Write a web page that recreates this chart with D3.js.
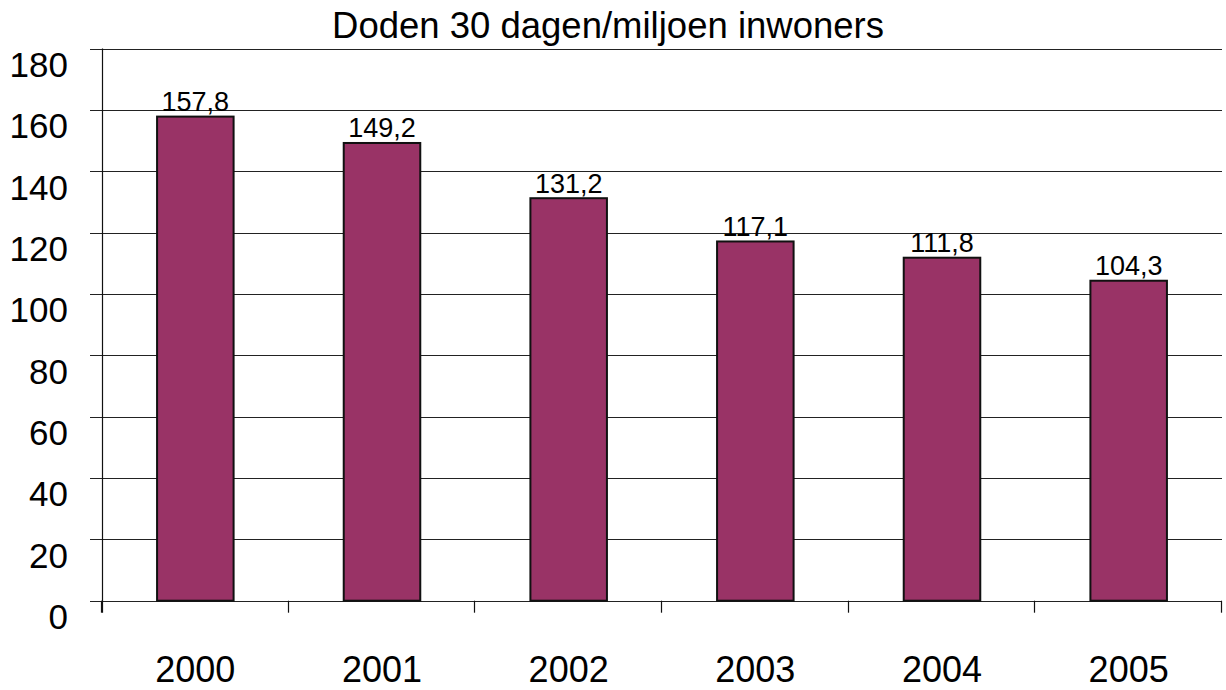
<!DOCTYPE html>
<html>
<head>
<script src="https://cdnjs.cloudflare.com/ajax/libs/d3/7.8.5/d3.min.js"></script>
<style>
  body { margin: 0; background: #fff; }
  text { font-family: "Liberation Sans", Arial, sans-serif; fill: #000; }
  .grid line { stroke: #222; stroke-width: 1.2px; shape-rendering: crispEdges; }
  .bar { fill: #993366; stroke: #111; stroke-width: 2px; }
</style>
</head>
<body>
<script>
  // data
  var years = ["2000", "2001", "2002", "2003", "2004", "2005"];
  var values = [157.8, 149.2, 131.2, 117.1, 111.8, 104.3];
  var yTicks = [0, 20, 40, 60, 80, 100, 120, 140, 160, 180];
  var title = "Doden 30 dagen/miljoen inwoners";

  var width = 1226, height = 690;
  var margin = {top: 48.5, right: 4, bottom: 89.3, left: 102};

  var svg = d3.select("body").append("svg")
      .attr("width", width)
      .attr("height", height);

  var x = d3.scaleBand()
      .domain(years)
      .range([margin.left, width - margin.right])
      .padding(0);

  var y = d3.scaleLinear()
      .domain([0, 180])
      .range([height - margin.bottom, margin.top]);

  var barW = x.bandwidth() * 0.41;

  // gridlines (extend left as ticks)
  svg.append("g").attr("class", "grid")
    .selectAll("line")
    .data(yTicks)
    .enter().append("line")
      .attr("x1", margin.left - 12)
      .attr("x2", width - margin.right)
      .attr("y1", function(d) { return Math.round(y(d)) + 0.5; })
      .attr("y2", function(d) { return Math.round(y(d)) + 0.5; });

  // y axis line
  svg.append("line")
    .attr("x1", margin.left + 0.5).attr("x2", margin.left + 0.5)
    .attr("y1", y(180)).attr("y2", y(0) + 12)
    .attr("stroke", "#111").attr("stroke-width", 1.2);

  // x category ticks
  var bounds = years.map(function(d) { return x(d); }).concat([x(years[years.length - 1]) + x.bandwidth()]);
  svg.append("g").selectAll("line")
    .data(bounds)
    .enter().append("line")
      .attr("x1", function(d) { return Math.round(d) - 0.5; })
      .attr("x2", function(d) { return Math.round(d) - 0.5; })
      .attr("y1", y(0))
      .attr("y2", y(0) + 12)
      .attr("stroke", "#111").attr("stroke-width", 1.2);

  // y labels
  svg.append("g").selectAll("text")
    .data(yTicks)
    .enter().append("text")
      .attr("x", 68)
      .attr("y", function(d) { return y(d) + 28.5; })
      .attr("text-anchor", "end")
      .style("font-size", "35px")
      .text(function(d) { return d; });

  // bars
  svg.append("g").selectAll("rect")
    .data(values)
    .enter().append("rect")
      .attr("class", "bar")
      .attr("x", function(d, i) { return x(years[i]) + (x.bandwidth() - barW) / 2; })
      .attr("y", function(d) { return y(d); })
      .attr("width", barW)
      .attr("height", function(d) { return y(0) - y(d); });

  // value labels
  svg.append("g").selectAll("text")
    .data(values)
    .enter().append("text")
      .attr("x", function(d, i) { return x(years[i]) + x.bandwidth() / 2; })
      .attr("y", function(d) { return y(d) - 5.5; })
      .attr("text-anchor", "middle")
      .style("font-size", "27px")
      .text(function(d) { return d.toFixed(1).replace(".", ","); });

  // x labels
  svg.append("g").selectAll("text")
    .data(years)
    .enter().append("text")
      .attr("x", function(d) { return x(d) + x.bandwidth() / 2; })
      .attr("y", 682)
      .attr("text-anchor", "middle")
      .style("font-size", "36px")
      .text(function(d) { return d; });

  // title
  svg.append("text")
    .attr("x", 608)
    .attr("y", 38)
    .attr("text-anchor", "middle")
    .style("font-size", "36.5px")
    .text(title);
</script>
</body>
</html>
